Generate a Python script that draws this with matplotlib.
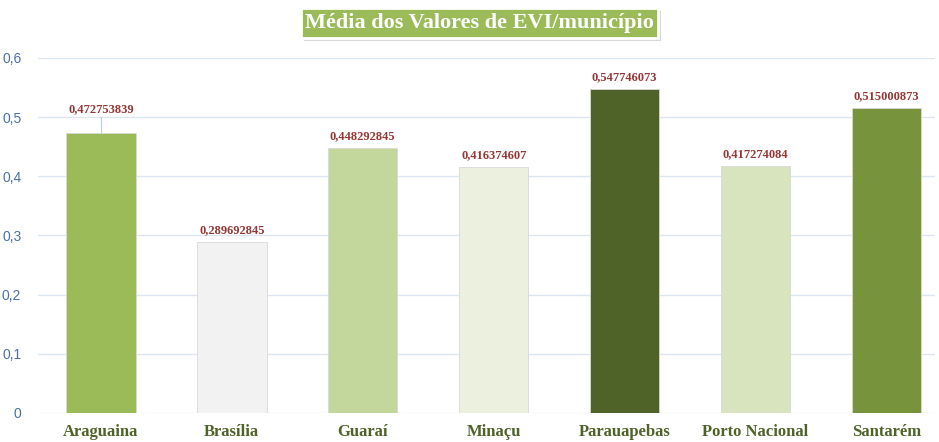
import matplotlib.pyplot as plt
from matplotlib.patches import Rectangle

municipios = ['Araguaina', 'Brasília', 'Guaraí', 'Minaçu', 'Parauapebas', 'Porto Nacional', 'Santarém']
evi = [0.472753839, 0.289692845, 0.448292845, 0.416374607, 0.547746073, 0.417274084, 0.515000873]
rotulos = ['0,472753839', '0,289692845', '0,448292845', '0,416374607', '0,547746073', '0,417274084', '0,515000873']
cores = ['#9BBB59', '#F2F2F2', '#C3D69B', '#EBF1DE', '#4F6228', '#D7E4BD', '#77933C']
yticks = [0, 0.1, 0.2, 0.3, 0.4, 0.5, 0.6]
ytick_labels = ['0', '0,1', '0,2', '0,3', '0,4', '0,5', '0,6']

W, H = 939, 442
fig = plt.figure(figsize=(W/100, H/100), dpi=100)
ax = fig.add_axes([38/W, 29/H, (935-38)/W, (413-58)/H])

x = range(len(municipios))
ax.bar(x, evi, width=0.53, color=cores, edgecolor='#D9D9D9', linewidth=0.6, zorder=3)

ax.set_ylim(0, 0.6)
ax.set_xlim(-0.48, 6.37)
ax.set_yticks(yticks)
ax.set_yticklabels(ytick_labels, color='#4A6FA5', fontsize=10, family='Liberation Sans')
ax.tick_params(axis='y', length=0, pad=12)
ax.tick_params(axis='x', length=0, pad=8)
ax.set_xticks(list(x))
ax.set_xticklabels(municipios, family='Liberation Serif', fontweight='bold', fontsize=12, color='#4F6228')
ax.grid(axis='y', color='#DCE6F2', linewidth=1, zorder=0)
for s in ax.spines.values():
    s.set_visible(False)

for i, (v, r) in enumerate(zip(evi, rotulos)):
    y = v + 0.01
    if i == 0:
        y = 0.5 + 0.003
        ax.plot([i, i], [v, 0.5], color='#B9CDE5', linewidth=0.8, zorder=2)
    ax.text(i, y, r, ha='center', va='bottom', family='Liberation Serif',
            fontweight='bold', fontsize=9, color='#953735', clip_on=False)

# caixa do titulo com sombra
x0, x1, y0, y1 = 301, 658, 8, 38
fig.add_artist(Rectangle(((x0+3)/W, 1-(y1+3)/H), (x1-x0)/W, (y1-y0)/H,
                         transform=fig.transFigure, facecolor='#BFBFBF', edgecolor='none', alpha=0.6))
fig.add_artist(Rectangle((x0/W, 1-y1/H), (x1-x0)/W, (y1-y0)/H,
                         transform=fig.transFigure, facecolor='#9BBB59', edgecolor='white', linewidth=2))
fig.text((x0+x1)/2/W, 1-(y0+y1)/2/H, 'Média dos Valores de EVI/município', ha='center', va='center',
         family='Liberation Serif', fontweight='bold', fontsize=16, color='white')

fig.savefig('out.png', dpi=100)
